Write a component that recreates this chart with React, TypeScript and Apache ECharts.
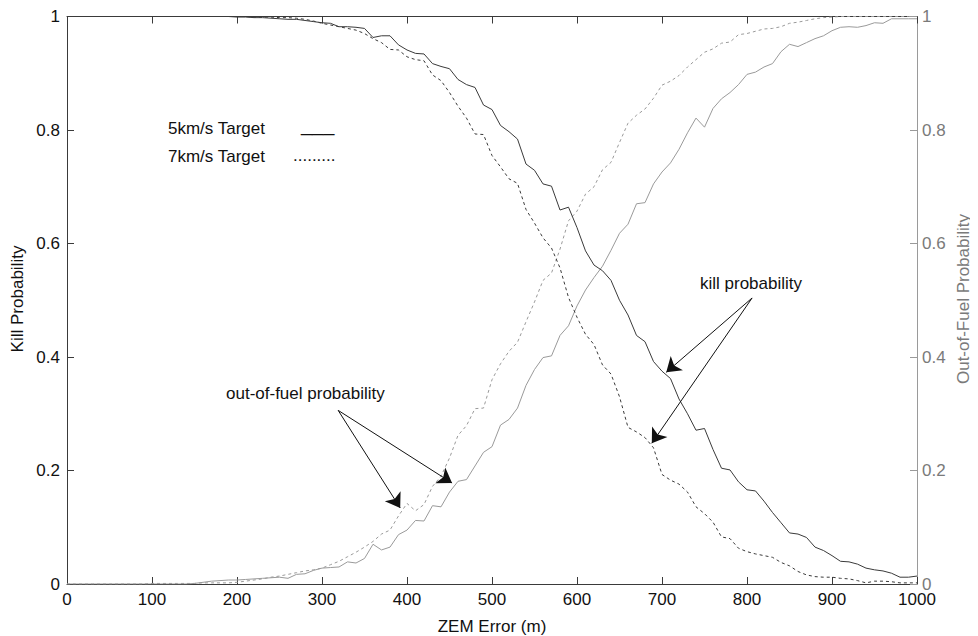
import React, { useEffect, useRef } from "react";
import * as echarts from "echarts";

// ZEM error (m), sampled every 10 m
const ZEM = [
  0, 10, 20, 30, 40, 50, 60, 70, 80, 90, 100, 110, 120, 130, 140, 150, 160, 170, 180, 190,
  200, 210, 220, 230, 240, 250, 260, 270, 280, 290, 300, 310, 320, 330, 340, 350, 360, 370, 380, 390,
  400, 410, 420, 430, 440, 450, 460, 470, 480, 490, 500, 510, 520, 530, 540, 550, 560, 570, 580, 590,
  600, 610, 620, 630, 640, 650, 660, 670, 680, 690, 700, 710, 720, 730, 740, 750, 760, 770, 780, 790,
  800, 810, 820, 830, 840, 850, 860, 870, 880, 890, 900, 910, 920, 930, 940, 950, 960, 970, 980, 990, 1000,
];

const KILL_5 = [
  1, 1, 1, 1, 1, 1, 1, 1, 1, 1, 1, 1, 1, 1, 1, 1, 1, 1, 1, 1,
  0.999, 0.999, 0.998, 0.998, 0.997, 0.996, 0.995, 0.995, 0.993, 0.991,
  0.989, 0.988, 0.982, 0.982, 0.981, 0.979, 0.963, 0.966, 0.966, 0.95,
  0.941, 0.935, 0.934, 0.917, 0.912, 0.908, 0.889, 0.88, 0.875, 0.844,
  0.836, 0.808, 0.797, 0.784, 0.74, 0.729, 0.705, 0.701, 0.659, 0.664,
  0.628, 0.587, 0.562, 0.552, 0.535, 0.5, 0.474, 0.438, 0.427, 0.392,
  0.375, 0.362, 0.326, 0.3, 0.271, 0.274, 0.237, 0.204, 0.201, 0.18,
  0.166, 0.164, 0.146, 0.126, 0.108, 0.09, 0.088, 0.082, 0.065, 0.059,
  0.05, 0.04, 0.039, 0.035, 0.028, 0.025, 0.023, 0.019, 0.012, 0.012, 0.014,
];

const KILL_7 = [
  1, 1, 1, 1, 1, 1, 1, 1, 1, 1, 1, 1, 1, 1, 1, 1, 1, 1, 1, 1,
  1, 1, 0.999, 0.999, 0.999, 0.998, 0.998, 0.997, 0.995, 0.992,
  0.988, 0.985, 0.982, 0.979, 0.976, 0.97, 0.961, 0.954, 0.942, 0.941,
  0.929, 0.924, 0.922, 0.897, 0.887, 0.866, 0.842, 0.821, 0.793, 0.792,
  0.755, 0.735, 0.714, 0.706, 0.66, 0.636, 0.61, 0.592, 0.557, 0.505,
  0.47, 0.44, 0.422, 0.386, 0.37, 0.33, 0.276, 0.268, 0.258, 0.24,
  0.193, 0.183, 0.176, 0.162, 0.136, 0.124, 0.109, 0.083, 0.08, 0.063,
  0.057, 0.053, 0.05, 0.047, 0.038, 0.032, 0.022, 0.016, 0.013, 0.012,
  0.012, 0.01, 0.009, 0.006, 0.002, 0.005, 0.005, 0.004, 0.002, 0.002, 0.002,
];

const FUEL_5 = [
  0, 0, 0, 0, 0, 0, 0, 0, 0, 0, 0, 0, 0, 0, 0, 0.001, 0.003, 0.005, 0.006, 0.007,
  0.007, 0.008, 0.009, 0.01, 0.011, 0.012, 0.01, 0.017, 0.018, 0.024,
  0.028, 0.029, 0.03, 0.039, 0.037, 0.045, 0.07, 0.06, 0.065, 0.087,
  0.095, 0.112, 0.111, 0.138, 0.136, 0.162, 0.181, 0.184, 0.208, 0.232,
  0.242, 0.28, 0.29, 0.31, 0.35, 0.378, 0.399, 0.402, 0.438, 0.455,
  0.49, 0.518, 0.54, 0.56, 0.588, 0.618, 0.634, 0.67, 0.672, 0.705,
  0.726, 0.742, 0.766, 0.795, 0.821, 0.805, 0.838, 0.855, 0.866, 0.88,
  0.898, 0.902, 0.911, 0.917, 0.938, 0.951, 0.947, 0.954, 0.961, 0.966,
  0.975, 0.981, 0.982, 0.981, 0.984, 0.989, 0.988, 0.996, 0.996, 0.996, 0.996,
];

const FUEL_7 = [
  0, 0, 0, 0, 0, 0, 0, 0, 0, 0, 0.001, 0.001, 0.001, 0.001, 0.001, 0.001, 0.002, 0.002, 0.002, 0.002,
  0.003, 0.005, 0.007, 0.009, 0.012, 0.014, 0.017, 0.02, 0.023, 0.025,
  0.028, 0.034, 0.04, 0.048, 0.056, 0.065, 0.075, 0.088, 0.095, 0.12,
  0.142, 0.129, 0.14, 0.172, 0.19, 0.222, 0.262, 0.279, 0.309, 0.31,
  0.36, 0.388, 0.41, 0.426, 0.462, 0.497, 0.535, 0.548, 0.59, 0.64,
  0.657, 0.687, 0.7, 0.73, 0.743, 0.778, 0.812, 0.826, 0.837, 0.856,
  0.879, 0.886, 0.896, 0.911, 0.924, 0.937, 0.943, 0.953, 0.955, 0.968,
  0.97, 0.974, 0.978, 0.979, 0.982, 0.988, 0.99, 0.993, 0.996, 0.998,
  0.999, 1, 1, 1, 1, 1, 1, 1, 1, 1, 1,
];

const X_TICKS = { min: 0, max: 1000, interval: 100 };
const Y_TICKS = { min: 0, max: 1, interval: 0.2 };

// annotation arrows in data coordinates: [fromX, fromY, toX, toY]
const FUEL_ARROWS = [
  [319, 0.306, 392, 0.134],
  [319, 0.306, 453, 0.178],
];
const KILL_ARROWS = [
  [806, 0.504, 705, 0.373],
  [806, 0.504, 688, 0.248],
];

const FONT = "'Liberation Sans', Arial, Helvetica, sans-serif";
const DARK = "#3a3a3a";
const GRAY = "#9a9a9a";
const FS = 17;

const pairs = (ys: number[]) => ZEM.map((x, i) => [x, ys[i]]);

export default function App() {
  const ref = useRef<HTMLDivElement>(null);

  useEffect(() => {
    if (!ref.current) return;
    const chart = echarts.init(ref.current, null, { renderer: "svg" });

    const arrowLines = [...FUEL_ARROWS, ...KILL_ARROWS].map((a) => [
      { coord: [a[0], a[1]] },
      { coord: [a[2], a[3]] },
    ]);

    const axisCommon = (color: string, labelColor: string, show: boolean, margin: number) => ({
      axisLine: { show: true, onZero: false, lineStyle: { color, width: 1 } },
      axisTick: { show: true, inside: true, length: 7, lineStyle: { color, width: 1 } },
      axisLabel: {
        show,
        color: labelColor,
        fontSize: FS,
        lineHeight: 13,
        fontFamily: FONT,
        margin,
        formatter: (v: number) => String(v),
      },
      splitLine: { show: false },
    });

    const txt = (text: string, x: number, y: number, opts: any = {}) => ({
      type: "text",
      x,
      y,
      rotation: opts.rotation || 0,
      style: {
        text,
        font: `${opts.size || FS}px ${FONT}`,
        fill: opts.fill || "#111",
        align: opts.align || "left",
        verticalAlign: "middle",
      },
    });

    chart.setOption({
      animation: false,
      backgroundColor: "#ffffff",
      grid: { left: 59, top: 7, width: 850, height: 569, containLabel: false },
      xAxis: [
        { type: "value", position: "bottom", ...X_TICKS, ...axisCommon(DARK, "#111", true, 9) },
        { type: "value", position: "top", ...X_TICKS, ...axisCommon(DARK, "#111", false, 8) },
      ],
      yAxis: [
        { type: "value", position: "left", ...Y_TICKS, ...axisCommon(DARK, "#111", true, 7) },
        { type: "value", position: "right", ...Y_TICKS, ...axisCommon(GRAY, "#7a7a7a", true, 5) },
      ],
      series: [
        {
          name: "Kill 5km/s",
          type: "line",
          xAxisIndex: 0,
          yAxisIndex: 0,
          data: pairs(KILL_5),
          showSymbol: false,
          lineStyle: { color: DARK, width: 1 },
          z: 3,
          markLine: {
            silent: true,
            symbol: ["none", "arrow"],
            symbolSize: 14,
            label: { show: false },
            lineStyle: { color: "#111", width: 1, type: "solid" },
            itemStyle: { color: "#111" },
            data: arrowLines,
          },
        },
        {
          name: "Kill 7km/s",
          type: "line",
          xAxisIndex: 0,
          yAxisIndex: 0,
          data: pairs(KILL_7),
          showSymbol: false,
          lineStyle: { color: DARK, width: 1, type: [3, 3] },
          z: 3,
        },
        {
          name: "Out-of-fuel 5km/s",
          type: "line",
          xAxisIndex: 0,
          yAxisIndex: 1,
          data: pairs(FUEL_5),
          showSymbol: false,
          lineStyle: { color: GRAY, width: 1 },
          z: 2,
        },
        {
          name: "Out-of-fuel 7km/s",
          type: "line",
          xAxisIndex: 0,
          yAxisIndex: 1,
          data: pairs(FUEL_7),
          showSymbol: false,
          lineStyle: { color: GRAY, width: 1, type: [3, 3] },
          z: 2,
        },
      ],
      graphic: [
        txt("Kill Probability", 9, 291, { rotation: Math.PI / 2, align: "center" }),
        txt("Out-of-Fuel Probability", 955, 291, { rotation: Math.PI / 2, align: "center", fill: "#7a7a7a" }),
        txt("ZEM Error (m)", 484, 618, { align: "center" }),
        txt("5km/s Target", 160, 120),
        txt("___", 293, 116, { size: 20 }),
        txt("7km/s Target", 160, 148),
        txt(".........", 285, 147),
        txt("out-of-fuel probability", 218, 385),
        txt("kill probability", 692, 275),
      ],
    });

    return () => chart.dispose();
  }, []);

  return <div ref={ref} style={{ width: 970, height: 628 }} />;
}
